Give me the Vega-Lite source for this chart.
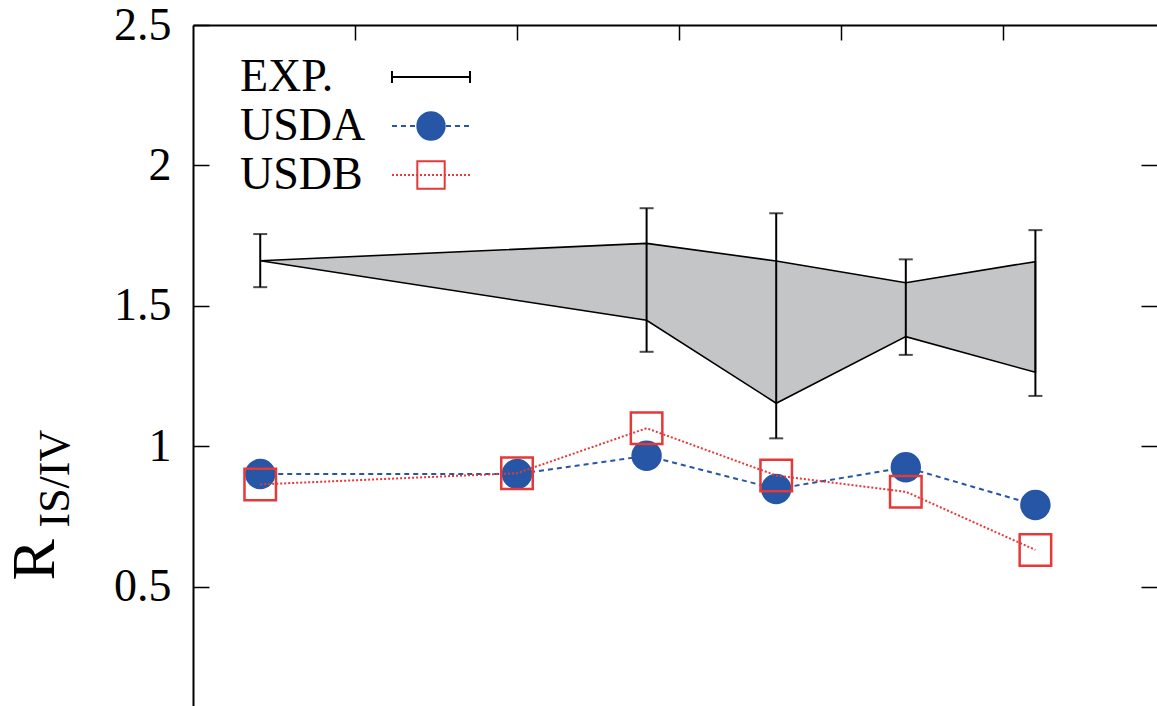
{
  "$schema": "https://vega.github.io/schema/vega-lite/v6.json",
  "width": 964,
  "height": 681,
  "autosize": {"type": "none"},
  "padding": {"left": 193, "top": 25, "right": 0, "bottom": 0},
  "background": "white",
  "config": {
    "view": {"stroke": null},
    "font": "Liberation Serif",
    "axis": {"grid": false}
  },
  "datasets": {
    "exp": [
      {"x": 0.415, "band_hi": 1.661, "band_lo": 1.661, "err_hi": 1.756, "err_lo": 1.567},
      {"x": 2.8, "band_hi": 1.723, "band_lo": 1.449, "err_hi": 1.848, "err_lo": 1.337},
      {"x": 3.6, "band_hi": 1.66, "band_lo": 1.154, "err_hi": 1.83, "err_lo": 1.029},
      {"x": 4.4, "band_hi": 1.583, "band_lo": 1.391, "err_hi": 1.666, "err_lo": 1.326},
      {"x": 5.2, "band_hi": 1.658, "band_lo": 1.264, "err_hi": 1.77, "err_lo": 1.18}
    ],
    "model": [
      {"x": 0.415, "series": "USDA", "r": 0.902},
      {"x": 2.0, "series": "USDA", "r": 0.902},
      {"x": 2.8, "series": "USDA", "r": 0.967},
      {"x": 3.6, "series": "USDA", "r": 0.849},
      {"x": 4.4, "series": "USDA", "r": 0.926},
      {"x": 5.2, "series": "USDA", "r": 0.792},
      {"x": 0.415, "series": "USDB", "r": 0.865},
      {"x": 2.0, "series": "USDB", "r": 0.905},
      {"x": 2.8, "series": "USDB", "r": 1.065},
      {"x": 3.6, "series": "USDB", "r": 0.897},
      {"x": 4.4, "series": "USDB", "r": 0.839},
      {"x": 5.2, "series": "USDB", "r": 0.632}
    ]
  },
  "resolve": {"axis": {"x": "independent", "y": "independent"}},
  "layer": [
    {
      "data": {"name": "exp"},
      "mark": {"type": "area", "fill": "#c4c5c7", "stroke": "black", "strokeWidth": 1.6},
      "encoding": {
        "x": {
          "field": "x", "type": "quantitative",
          "scale": {"domain": [0, 5.9506], "nice": false, "zero": false},
          "axis": {
            "orient": "top", "values": [1, 2, 3, 4, 5], "labels": false, "title": null,
            "tickSize": -15, "tickWidth": 1.5, "tickColor": "black",
            "domainColor": "black", "domainWidth": 2
          }
        },
        "y": {
          "field": "band_hi", "type": "quantitative",
          "scale": {"domain": [0.0765, 2.5], "nice": false, "zero": false},
          "axis": {
            "orient": "left", "values": [0.5, 1, 1.5, 2, 2.5], "format": "~g",
            "labelFont": "Liberation Serif", "labelFontSize": 46, "labelColor": "black",
            "labelPadding": 38, "tickSize": -16, "tickWidth": 1.5, "tickColor": "black",
            "domainColor": "black", "domainWidth": 2,
            "title": "R", "titleFont": "Liberation Serif", "titleFontSize": 62,
            "titleFontWeight": "normal", "titleColor": "black", "titleAngle": -90,
            "titleX": -140, "titleY": 555, "titleAlign": "left", "titleBaseline": "alphabetic"
          }
        },
        "y2": {"field": "band_lo"}
      }
    },
    {
      "data": {"name": "exp"},
      "mark": {
        "type": "errorbar",
        "ticks": {"size": 14, "thickness": 2, "color": "black"},
        "rule": {"strokeWidth": 2, "color": "black"}
      },
      "encoding": {
        "x": {"field": "x", "type": "quantitative", "scale": {"domain": [0, 5.9506], "nice": false, "zero": false}, "axis": null},
        "y": {"field": "err_lo", "type": "quantitative", "scale": {"domain": [0.0765, 2.5], "nice": false, "zero": false}, "axis": null},
        "y2": {"field": "err_hi"}
      }
    },
    {
      "data": {"name": "model"},
      "transform": [{"filter": "datum.series === 'USDA'"}],
      "mark": {"type": "line", "strokeWidth": 2},
      "encoding": {
        "x": {"field": "x", "type": "quantitative", "scale": {"domain": [0, 5.9506], "nice": false, "zero": false}, "axis": null},
        "y": {
          "field": "r", "type": "quantitative",
          "scale": {"domain": [0.0765, 2.5], "nice": false, "zero": false},
          "axis": {
            "orient": "right", "values": [0.5, 1, 1.5, 2], "labels": false, "domain": false,
            "tickSize": -16, "tickWidth": 1.5, "tickColor": "black",
            "title": "IS/IV", "titleFont": "Liberation Serif", "titleFontSize": 44,
            "titleFontWeight": "normal", "titleColor": "black", "titleAngle": -90,
            "titleX": -1089, "titleY": 502, "titleAlign": "left", "titleBaseline": "alphabetic"
          }
        },
        "color": {
          "field": "series", "type": "nominal",
          "scale": {"domain": ["EXP.", "USDA", "USDB"], "range": ["black", "#2656a5", "#e53939"]},
          "legend": {
            "orient": "none", "legendX": 215, "legendY": 29, "title": null, "padding": 0,
            "labelFont": "Liberation Serif", "labelFontSize": 46, "labelColor": "black",
            "labelOffset": -214, "labelAlign": "left", "symbolSize": 750, "symbolOffset": 0, "rowPadding": 3,
            "symbolType": "M-2.85,0H2.85", "symbolStrokeWidth": 2
          }
        },
        "strokeDash": {
          "field": "series", "type": "nominal",
          "scale": {"domain": ["EXP.", "USDA", "USDB"], "range": [[1, 0], [5, 4], [2, 2]]},
          "legend": {
            "orient": "none", "legendX": 215, "legendY": 29, "title": null, "padding": 0,
            "labelFont": "Liberation Serif", "labelFontSize": 46, "labelColor": "black",
            "labelOffset": -214, "labelAlign": "left", "symbolSize": 750, "symbolOffset": 0, "rowPadding": 3,
            "symbolType": "M-2.85,0H2.85", "symbolStrokeWidth": 2
          }
        }
      }
    },
    {
      "data": {"name": "model"},
      "transform": [{"filter": "datum.series === 'USDA'"}],
      "mark": {"type": "point", "opacity": 1, "strokeWidth": 2.5, "size": 779},
      "encoding": {
        "x": {"field": "x", "type": "quantitative", "scale": {"domain": [0, 5.9506], "nice": false, "zero": false}, "axis": null},
        "y": {"field": "r", "type": "quantitative", "scale": {"domain": [0.0765, 2.5], "nice": false, "zero": false}, "axis": null},
        "shape": {
          "field": "series", "type": "nominal",
          "scale": {"domain": ["EXP", "USDA", "USDB"], "range": ["M-2.85,-0.44V0.44M-2.85,0H2.85M2.85,-0.44V0.44", "circle", "square"]},
          "legend": {
            "orient": "none", "legendX": 215, "legendY": 29, "title": null, "padding": 0,
            "labelFont": "Liberation Serif", "labelFontSize": 46, "labelExpr": "''",
            "labelOffset": -214, "labelAlign": "left", "symbolSize": 750, "symbolOffset": 0, "rowPadding": 3,
            "symbolStrokeWidth": 2
          }
        },
        "fill": {
          "field": "series", "type": "nominal",
          "scale": {"domain": ["EXP", "USDA", "USDB"], "range": ["transparent", "#2656a5", "transparent"]},
          "legend": {
            "orient": "none", "legendX": 215, "legendY": 29, "title": null, "padding": 0,
            "labelFont": "Liberation Serif", "labelFontSize": 46, "labelExpr": "''",
            "labelOffset": -214, "labelAlign": "left", "symbolSize": 750, "symbolOffset": 0, "rowPadding": 3,
            "symbolStrokeWidth": 2
          }
        },
        "stroke": {
          "field": "series", "type": "nominal",
          "scale": {"domain": ["EXP", "USDA", "USDB"], "range": ["black", "#2656a5", "#e53939"]},
          "legend": {
            "orient": "none", "legendX": 215, "legendY": 29, "title": null, "padding": 0,
            "labelFont": "Liberation Serif", "labelFontSize": 46, "labelExpr": "''",
            "labelOffset": -214, "labelAlign": "left", "symbolSize": 750, "symbolOffset": 0, "rowPadding": 3,
            "symbolStrokeWidth": 2
          }
        }
      }
    },
    {
      "data": {"name": "model"},
      "transform": [{"filter": "datum.series === 'USDB'"}],
      "mark": {"type": "line", "strokeWidth": 2},
      "encoding": {
        "x": {"field": "x", "type": "quantitative", "scale": {"domain": [0, 5.9506], "nice": false, "zero": false}, "axis": null},
        "y": {"field": "r", "type": "quantitative", "scale": {"domain": [0.0765, 2.5], "nice": false, "zero": false}, "axis": null},
        "color": {
          "field": "series", "type": "nominal",
          "scale": {"domain": ["EXP.", "USDA", "USDB"], "range": ["black", "#2656a5", "#e53939"]},
          "legend": {
            "orient": "none", "legendX": 215, "legendY": 29, "title": null, "padding": 0,
            "labelFont": "Liberation Serif", "labelFontSize": 46, "labelColor": "black",
            "labelOffset": -214, "labelAlign": "left", "symbolSize": 750, "symbolOffset": 0, "rowPadding": 3,
            "symbolType": "M-2.85,0H2.85", "symbolStrokeWidth": 2
          }
        },
        "strokeDash": {
          "field": "series", "type": "nominal",
          "scale": {"domain": ["EXP.", "USDA", "USDB"], "range": [[1, 0], [5, 4], [2, 2]]},
          "legend": {
            "orient": "none", "legendX": 215, "legendY": 29, "title": null, "padding": 0,
            "labelFont": "Liberation Serif", "labelFontSize": 46, "labelColor": "black",
            "labelOffset": -214, "labelAlign": "left", "symbolSize": 750, "symbolOffset": 0, "rowPadding": 3,
            "symbolType": "M-2.85,0H2.85", "symbolStrokeWidth": 2
          }
        }
      }
    },
    {
      "data": {"name": "model"},
      "transform": [{"filter": "datum.series === 'USDB'"}],
      "mark": {"type": "point", "opacity": 1, "strokeWidth": 2.5, "size": 992},
      "encoding": {
        "x": {"field": "x", "type": "quantitative", "scale": {"domain": [0, 5.9506], "nice": false, "zero": false}, "axis": null},
        "y": {"field": "r", "type": "quantitative", "scale": {"domain": [0.0765, 2.5], "nice": false, "zero": false}, "axis": null},
        "shape": {
          "field": "series", "type": "nominal",
          "scale": {"domain": ["EXP", "USDA", "USDB"], "range": ["M-2.85,-0.44V0.44M-2.85,0H2.85M2.85,-0.44V0.44", "circle", "square"]},
          "legend": {
            "orient": "none", "legendX": 215, "legendY": 29, "title": null, "padding": 0,
            "labelFont": "Liberation Serif", "labelFontSize": 46, "labelExpr": "''",
            "labelOffset": -214, "labelAlign": "left", "symbolSize": 750, "symbolOffset": 0, "rowPadding": 3,
            "symbolStrokeWidth": 2
          }
        },
        "fill": {
          "field": "series", "type": "nominal",
          "scale": {"domain": ["EXP", "USDA", "USDB"], "range": ["transparent", "#2656a5", "transparent"]},
          "legend": {
            "orient": "none", "legendX": 215, "legendY": 29, "title": null, "padding": 0,
            "labelFont": "Liberation Serif", "labelFontSize": 46, "labelExpr": "''",
            "labelOffset": -214, "labelAlign": "left", "symbolSize": 750, "symbolOffset": 0, "rowPadding": 3,
            "symbolStrokeWidth": 2
          }
        },
        "stroke": {
          "field": "series", "type": "nominal",
          "scale": {"domain": ["EXP", "USDA", "USDB"], "range": ["black", "#2656a5", "#e53939"]},
          "legend": {
            "orient": "none", "legendX": 215, "legendY": 29, "title": null, "padding": 0,
            "labelFont": "Liberation Serif", "labelFontSize": 46, "labelExpr": "''",
            "labelOffset": -214, "labelAlign": "left", "symbolSize": 750, "symbolOffset": 0, "rowPadding": 3,
            "symbolStrokeWidth": 2
          }
        }
      }
    }
  ]
}
